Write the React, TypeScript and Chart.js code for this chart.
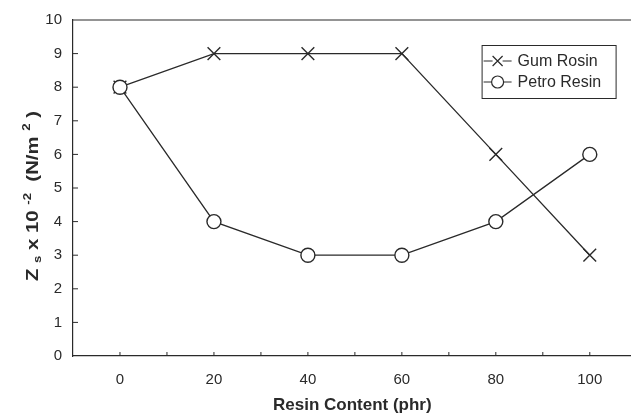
import React, { useEffect, useRef } from "react";
import { Chart, registerables } from "chart.js";

Chart.register(...registerables);

const resinContent = [0, 20, 40, 60, 80, 100];
const gumRosin = [8, 9, 9, 9, 6, 3];
const petroResin = [8, 4, 3, 3, 4, 6];
const xTickLabels = [0, 20, 40, 60, 80, 100];
const xMinorTicks = [-10, 0, 10, 20, 30, 40, 50, 60, 70, 80, 90, 100, 110];
const yTickValues = [1, 2, 3, 4, 5, 6, 7, 8, 9];
const seriesNames = ["Gum Rosin", "Petro Resin"];
const xTitle = "Resin Content (phr)";

const INK = "#2a2a2a";
const FONT = "'Liberation Sans', Arial, sans-serif";

const framePlugin = {
  id: "framePlugin",
  afterDraw(chart: any) {
    const { ctx, chartArea, scales } = chart;
    const xs = scales.x;
    const ys = scales.y;
    ctx.save();
    ctx.strokeStyle = INK;
    ctx.lineWidth = 1.2;
    ctx.beginPath();
    ctx.moveTo(chartArea.left, chartArea.top);
    ctx.lineTo(chartArea.right, chartArea.top);
    ctx.stroke();
    ctx.lineWidth = 1;
    for (const v of xMinorTicks) {
      const px = xs.getPixelForValue(v);
      if (px <= chartArea.left + 1 || px >= chartArea.right) continue;
      ctx.beginPath();
      ctx.moveTo(px, chartArea.bottom);
      ctx.lineTo(px, chartArea.bottom - 4);
      ctx.stroke();
    }
    for (const v of yTickValues) {
      const py = ys.getPixelForValue(v);
      ctx.beginPath();
      ctx.moveTo(chartArea.left, py);
      ctx.lineTo(chartArea.left + 5, py);
      ctx.stroke();
    }
    ctx.restore();

    // y axis title with sub/superscripts
    ctx.save();
    const cy = (chartArea.top + chartArea.bottom) / 2 + 8;
    ctx.translate(38, cy);
    ctx.rotate(-Math.PI / 2);
    ctx.fillStyle = INK;
    ctx.textBaseline = "alphabetic";
    const big = `bold 17px ${FONT}`;
    const small = `bold 11px ${FONT}`;
    const parts: [string, string, number][] = [
      ["Z", big, 0],
      [" ", big, 0],
      ["s", small, 3],
      [" x 10 ", big, 0],
      ["-2", small, -7],
      ["  (N/m ", big, 0],
      ["2", small, -8],
      [" )", big, 0],
    ];
    let total = 0;
    for (const [t, f] of parts) {
      ctx.font = f;
      total += ctx.measureText(t).width;
    }
    const scaleX = 170 / total;
    ctx.scale(scaleX, 1);
    let x = -total / 2;
    for (const [t, f, dy] of parts) {
      ctx.font = f;
      ctx.fillText(t, x, dy);
      x += ctx.measureText(t).width;
    }
    ctx.restore();

    // legend
    ctx.save();
    const bw = 134;
    const bh = 53;
    const bx = chartArea.right - 16 - bw;
    const by = chartArea.top + 25;
    ctx.fillStyle = "#ffffff";
    ctx.fillRect(bx, by, bw, bh);
    ctx.strokeStyle = INK;
    ctx.lineWidth = 1;
    ctx.strokeRect(bx + 0.5, by + 0.5, bw, bh);
    ctx.font = `16px ${FONT}`;
    ctx.textBaseline = "middle";
    chart.data.datasets.forEach((ds: any, i: number) => {
      const ry = by + 16 + i * 21;
      ctx.strokeStyle = INK;
      ctx.lineWidth = 1;
      ctx.beginPath();
      ctx.moveTo(bx + 2, ry);
      ctx.lineTo(bx + 30, ry);
      ctx.stroke();
      ctx.fillStyle = "#ffffff";
      ctx.strokeStyle = INK;
      ctx.lineWidth = 1.2;
      const mx = bx + 16;
      if (ds.pointStyle === "circle") {
        ctx.beginPath();
        ctx.arc(mx, ry, 6, 0, Math.PI * 2);
        ctx.fill();
        ctx.stroke();
      } else {
        ctx.fillRect(mx - 5, ry - 5, 10, 10);
        ctx.beginPath();
        ctx.moveTo(mx - 5, ry - 5);
        ctx.lineTo(mx + 5, ry + 5);
        ctx.moveTo(mx + 5, ry - 5);
        ctx.lineTo(mx - 5, ry + 5);
        ctx.stroke();
      }
      ctx.fillStyle = INK;
      ctx.fillText(ds.label, bx + 36, ry + 1);
    });
    ctx.restore();
  },
};

export default function App() {
  const ref = useRef<HTMLCanvasElement | null>(null);
  useEffect(() => {
    if (!ref.current) return;
    const chart = new Chart(ref.current, {
      type: "line",
      data: {
        datasets: [
          {
            label: seriesNames[0],
            data: resinContent.map((x, i) => ({ x, y: gumRosin[i] })),
            borderColor: INK,
            borderWidth: 1.3,
            pointStyle: "crossRot",
            pointRadius: 9,
            pointBorderColor: INK,
            pointBorderWidth: 1.4,
            pointBackgroundColor: "#ffffff",
            order: 1,
            tension: 0,
          },
          {
            label: seriesNames[1],
            data: resinContent.map((x, i) => ({ x, y: petroResin[i] })),
            borderColor: INK,
            borderWidth: 1.3,
            pointStyle: "circle",
            pointRadius: 7,
            pointBorderColor: INK,
            pointBorderWidth: 1.4,
            pointBackgroundColor: "#ffffff",
            order: 0,
            tension: 0,
          },
        ],
      },
      options: {
        responsive: false,
        animation: false,
        layout: { padding: { top: 20, right: 0, left: 0, bottom: 0 } },
        plugins: { legend: { display: false }, tooltip: { enabled: false } },
        scales: {
          x: {
            type: "linear",
            min: -10,
            max: 108.9,
            afterBuildTicks: (s: any) => {
              s.ticks = xTickLabels.map((v) => ({ value: v }));
            },
            afterFit: (s: any) => {
              s.height = 60;
            },
            grid: { display: false, drawTicks: false },
            border: { display: true, color: INK, width: 1.2 },
            ticks: {
              color: INK,
              font: { family: FONT, size: 15 },
              padding: 15,
              maxRotation: 0,
              autoSkip: false,
            },
            title: {
              display: true,
              text: xTitle,
              color: INK,
              font: { family: FONT, size: 17, weight: "bold" },
              padding: { top: 0, bottom: 0 },
            },
          },
          y: {
            type: "linear",
            min: 0,
            max: 10,
            afterFit: (s: any) => {
              s.width = 73;
            },
            grid: { display: false, drawTicks: false },
            border: { display: true, color: INK, width: 1.2 },
            ticks: {
              stepSize: 1,
              color: INK,
              font: { family: FONT, size: 15 },
              padding: 11,
            },
          },
        },
      },
      plugins: [framePlugin],
    });
    return () => chart.destroy();
  }, []);
  return (
    <div style={{ position: "fixed", left: 0, top: 0, width: 631, height: 416, overflow: "hidden", background: "#fff" }}>
      <canvas ref={ref} width={642} height={416} style={{ display: "block" }} />
    </div>
  );
}
